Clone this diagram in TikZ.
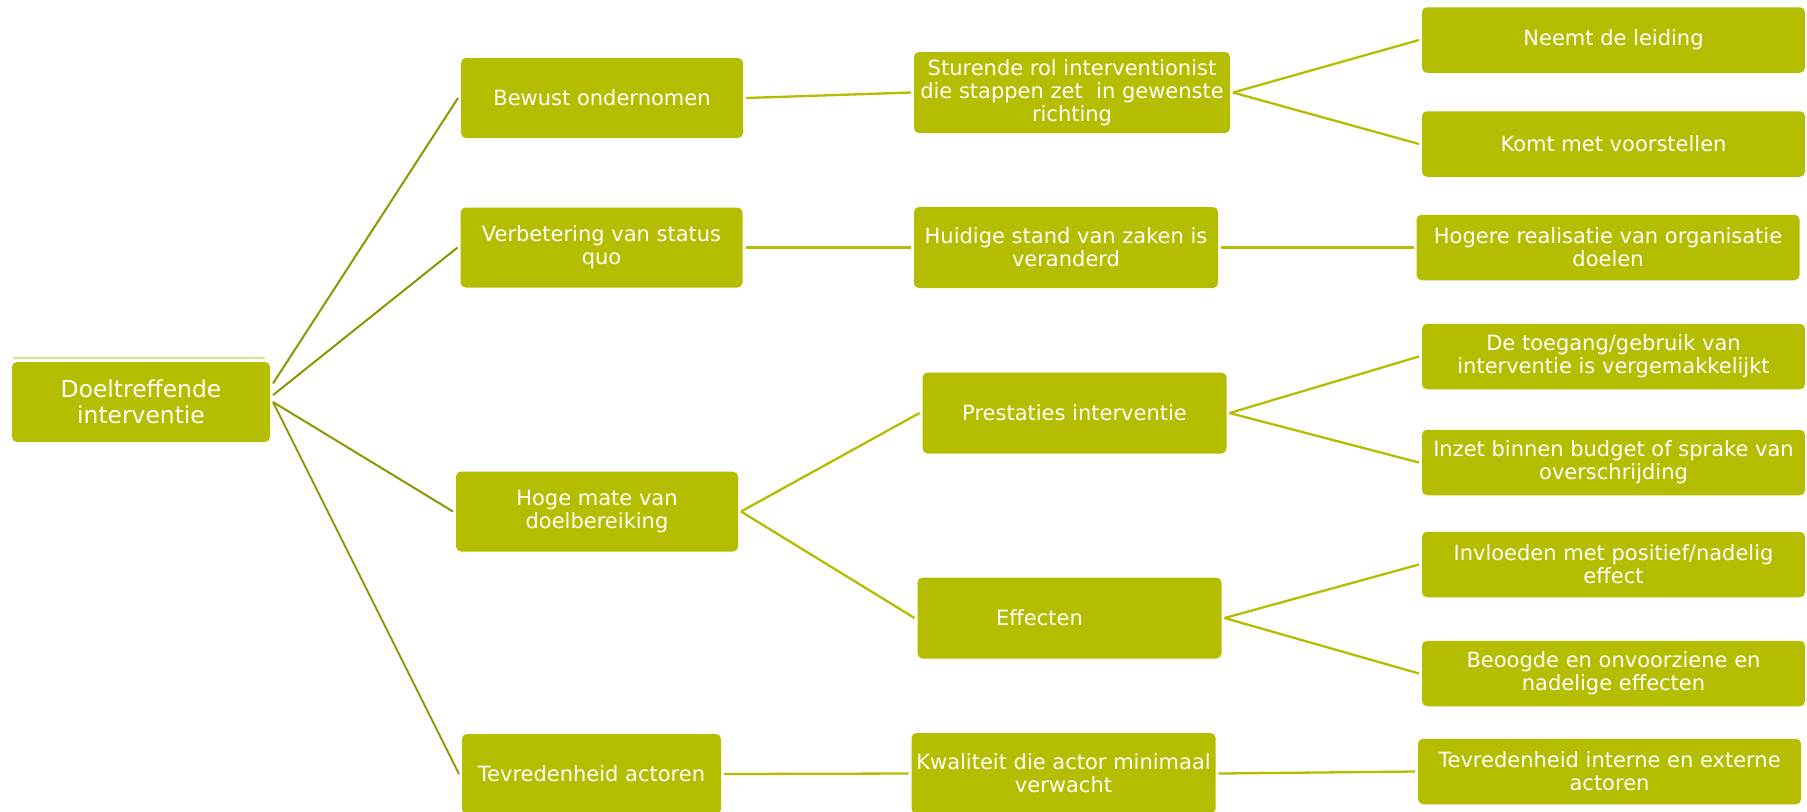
\documentclass[tikz,border=0pt]{standalone}
\usepackage{fontspec}
\setmainfont{DejaVu Sans}
\usepackage{xcolor}
\usetikzlibrary{positioning,calc}

\definecolor{lime_fill}{RGB}{181,189,0}
\definecolor{olive_line}{RGB}{140,152,0}

\begin{document}
\begin{tikzpicture}[x=0.5pt,y=-0.5pt]
	\tikzstyle{box_base}
	  =[draw=none, fill=lime_fill, rounded corners=2.5pt, text=white, align=center,
	    inner sep=0pt, outer sep=1.5pt, font=\fontsize{10.5}{11.4}\selectfont]
	\tikzstyle{box_root}
	  =[box_base, minimum width=129pt, minimum height=40pt, font=\fontsize{11.7}{13.2}\selectfont]
	\tikzstyle{box_md}
	  =[box_base, minimum width=141pt, minimum height=40pt]
	\tikzstyle{box_lg}
	  =[box_base, minimum width=152pt, minimum height=40.5pt]
	\tikzstyle{box_xlg}
	  =[box_base, minimum width=191.5pt, minimum height=32.75pt]
	\tikzstyle{line_root}
	  =[draw=olive_line, line width=1pt]
	\tikzstyle{line_sub}
	  =[draw=lime_fill, line width=1.15pt]

	\useasboundingbox (0,0) rectangle (1807,811);

	% root
	\node[box_root] (doel)
	  at (141,402) {Doeltreffende\\interventie};
	\draw[lime_fill!45, line width=0.7pt]
	  ($(doel.north west)+(4,-1)$) -- ($(doel.north east)+(-8,-1)$);

	% first level
	\node[box_md] (bewust)
	  at (602,98) {Bewust ondernomen};
	\node[box_md] (verbetering)
	  at (601.5,247.5) {Verbetering van status\\quo};
	\node[box_md] (hoge_mate)
	  at (597,511.5) {Hoge mate van\\doelbereiking};
	\node[box_md, minimum width=129.5pt] (tevreden)
	  at (591.5,774) {Tevredenheid actoren};

	% second level
	\node[box_lg, minimum width=158pt] (sturende)
	  at (1072,92.5) {Sturende rol interventionist\\die stappen zet\ \ in gewenste\\richting};
	\node[box_lg] (huidige)
	  at (1066,247.5) {Huidige stand van zaken is\\veranderd};
	\node[box_lg] (prestaties)
	  at (1074.5,413) {Prestaties interventie};
	\node[box_lg] (effecten)
	  at (1069.5,618) {Effecten\hspace*{30pt}};
	\node[box_lg] (kwaliteit)
	  at (1063.5,773.5) {Kwaliteit die actor minimaal\\verwacht};

	% third level
	\node[box_xlg] (leiding)
	  at (1613.5,40) {Neemt de leiding};
	\node[box_xlg] (voorstellen)
	  at (1613.5,144) {Komt met voorstellen};
	\node[box_xlg] (realisatie)
	  at (1608,247.5) {Hogere realisatie van organisatie\\doelen};
	\node[box_xlg] (toegang)
	  at (1613.5,356.5) {De toegang/gebruik van\\interventie is vergemakkelijkt};
	\node[box_xlg] (budget)
	  at (1613.5,462.5) {Inzet binnen budget of sprake van\\overschrijding};
	\node[box_xlg] (invloeden)
	  at (1613.5,564.5) {Invloeden met positief/nadelig\\effect};
	\node[box_xlg] (beoogde)
	  at (1613.5,673.5) {Beoogde en onvoorziene en\\nadelige effecten};
	\node[box_xlg] (tevreden_ie)
	  at (1609.5,771.5) {Tevredenheid interne en externe\\actoren};

	\draw[line_root] (doel.8)--(bewust.west);
	\draw[line_root] (doel.3.5)--(verbetering.west);
	\draw[line_root] (doel.0)--(hoge_mate.west);
	\draw[line_root] (doel.-0.6)--(tevreden.west);

	\draw[line_sub] (bewust.east)--(sturende.west);
	\draw[line_sub] (verbetering.east)--(huidige.west);
	\draw[line_sub] (hoge_mate.east)--(prestaties.west);
	\draw[line_sub] (hoge_mate.east)--(effecten.west);
	\draw[line_sub] (tevreden.east)--(kwaliteit.west);

	\draw[line_sub] (sturende.east)--(leiding.west);
	\draw[line_sub] (sturende.east)--(voorstellen.west);
	\draw[line_sub] (huidige.east)--(realisatie.west);
	\draw[line_sub] (prestaties.east)--(toegang.west);
	\draw[line_sub] (prestaties.east)--(budget.west);
	\draw[line_sub] (effecten.east)--(invloeden.west);
	\draw[line_sub] (effecten.east)--(beoogde.west);
	\draw[line_sub] (kwaliteit.east)--(tevreden_ie.west);
\end{tikzpicture}
\end{document}
